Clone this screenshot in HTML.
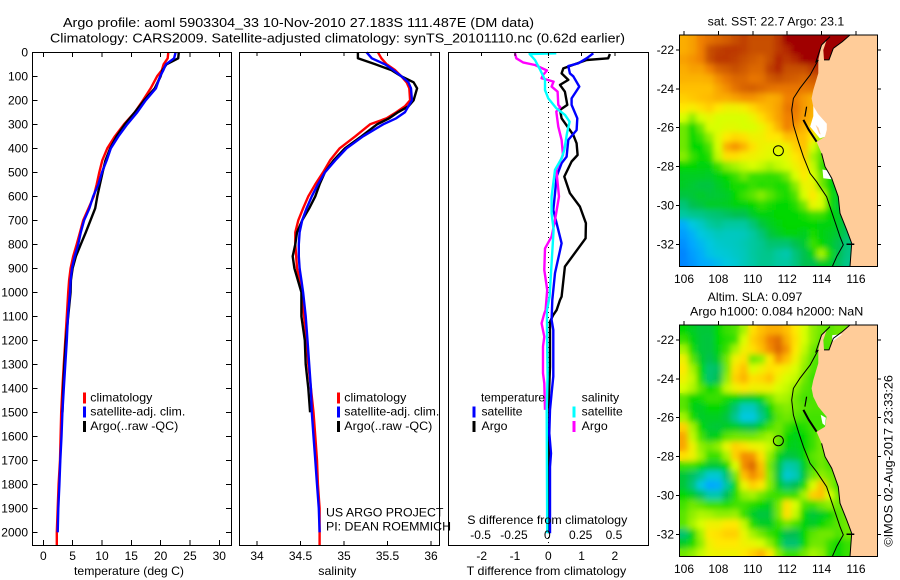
<!DOCTYPE html>
<html>
<head>
<meta charset="utf-8">
<title>Argo profile</title>
<style>
html,body{margin:0;padding:0;background:#fff;width:900px;height:580px;overflow:hidden}
svg{display:block}
text{font-family:"Liberation Sans",sans-serif;font-size:12px;fill:#000}
.t{font-size:13px}
</style>
</head>
<body>
<svg id="fig" xmlns="http://www.w3.org/2000/svg" width="900" height="580" viewBox="0 0 900 580">
<defs>
<filter id="soft" x="0" y="0" width="100%" height="100%"><feGaussianBlur stdDeviation="3" result="b"/><feMerge><feMergeNode in="SourceGraphic"/><feMergeNode in="b"/></feMerge></filter>
<clipPath id="clip-sst"><rect x="679.3" y="35" width="198" height="231.7"/></clipPath>
<clipPath id="clip-sla"><rect x="679.3" y="325" width="198" height="231.7"/></clipPath>
</defs>
<rect width="900" height="580" fill="#fff"/>

<text class="t" x="63" y="27" textLength="471" lengthAdjust="spacingAndGlyphs">Argo profile: aoml 5903304_33 10-Nov-2010 27.183S 111.487E (DM data)</text>
<text class="t" x="50" y="42.5" textLength="575" lengthAdjust="spacingAndGlyphs">Climatology: CARS2009. Satellite-adjusted climatology: synTS_20101110.nc (0.62d earlier)</text>

<g id="maps"></g>
<g id="panels"></g>

<text x="74" y="575" textLength="110" lengthAdjust="spacingAndGlyphs">temperature (deg C)</text>
<text x="318.3" y="575" textLength="38" lengthAdjust="spacingAndGlyphs">salinity</text>
<text x="466.7" y="575" textLength="159.5" lengthAdjust="spacingAndGlyphs">T difference from climatology</text>
<text x="467.3" y="524" textLength="160" lengthAdjust="spacingAndGlyphs">S difference from climatology</text>

<g>
<rect x="83" y="392.5" width="3" height="11" fill="#f00"/>
<rect x="83" y="406.5" width="3" height="11" fill="#00f"/>
<rect x="83" y="421" width="3" height="11" fill="#000"/>
<text x="90.3" y="401.7" textLength="62" lengthAdjust="spacingAndGlyphs">climatology</text>
<text x="90.3" y="415.7" textLength="95" lengthAdjust="spacingAndGlyphs">satellite-adj. clim.</text>
<text x="90.3" y="430" textLength="88" lengthAdjust="spacingAndGlyphs">Argo(..raw -QC)</text>
</g>
<g>
<rect x="337" y="392.5" width="3" height="11" fill="#f00"/>
<rect x="337" y="406.5" width="3" height="11" fill="#00f"/>
<rect x="337" y="421" width="3" height="11" fill="#000"/>
<text x="344.3" y="401.7" textLength="62" lengthAdjust="spacingAndGlyphs">climatology</text>
<text x="344.3" y="415.7" textLength="95" lengthAdjust="spacingAndGlyphs">satellite-adj. clim.</text>
<text x="344.3" y="430" textLength="88" lengthAdjust="spacingAndGlyphs">Argo(..raw -QC)</text>
</g>
<g>
<text x="481" y="401.7" textLength="64" lengthAdjust="spacingAndGlyphs">temperature</text>
<rect x="472.5" y="406.5" width="3" height="11" fill="#00f"/>
<rect x="472.5" y="421" width="3" height="11" fill="#000"/>
<text x="481.5" y="415.7" textLength="41" lengthAdjust="spacingAndGlyphs">satellite</text>
<text x="481.5" y="430" textLength="26" lengthAdjust="spacingAndGlyphs">Argo</text>
<text x="581.7" y="401.7" textLength="37.5" lengthAdjust="spacingAndGlyphs">salinity</text>
<rect x="572.5" y="406.5" width="3" height="11" fill="#0ff"/>
<rect x="572.5" y="421" width="3" height="11" fill="#f0f"/>
<text x="581.7" y="415.7" textLength="41" lengthAdjust="spacingAndGlyphs">satellite</text>
<text x="581.7" y="430" textLength="26" lengthAdjust="spacingAndGlyphs">Argo</text>
</g>

<text x="326" y="516.7" textLength="117.5" lengthAdjust="spacingAndGlyphs">US ARGO PROJECT</text>
<text x="326" y="530.7" textLength="125" lengthAdjust="spacingAndGlyphs">PI: DEAN ROEMMICH</text>

<text x="707.7" y="25.7" textLength="136.6" lengthAdjust="spacingAndGlyphs">sat. SST: 22.7 Argo: 23.1</text>
<text x="707.7" y="301" textLength="94.6" lengthAdjust="spacingAndGlyphs">Altim. SLA: 0.097</text>
<text x="690" y="315.7" textLength="173.3" lengthAdjust="spacingAndGlyphs">Argo h1000: 0.084 h2000: NaN</text>
<text transform="translate(892.7,546.7) rotate(-90)" x="0" y="0" textLength="171.7" lengthAdjust="spacingAndGlyphs">©IMOS 02-Aug-2017 23:33:26</text>
</svg>

<script>
// ---------- profile data ----------
const depthT = [0,25,50,75,100,150,200,250,300,350,400,450,500,550,600,650,700,750,800,850,900,950,1000,1100,1200,1300,1400,1500,1600,1700,1800,1900,2000,2055];
const tempClim = [21.3,21.2,20.5,20.2,19.4,18.3,17.0,15.6,13.75,12.2,10.9,10.05,9.55,9.1,8.6,7.7,6.8,6.25,5.7,5.1,4.65,4.4,4.25,4.0,3.75,3.5,3.25,3.05,2.95,2.85,2.6,2.45,2.3,2.3];
const tempSat = [22.55,22.3,20.9,20.45,19.9,19.2,17.45,16,14.3,12.8,11.5,10.8,10,9.4,8.5,7.85,6.95,6.4,5.95,5.35,4.9,4.65,4.55,4.2,4,3.75,3.5,3.25,3.1,2.9,2.75,2.55,2.45];
const tempArgo = [23.1,23,21,20.3,20,19,17.2,15.6,13.9,12.5,11.4,10.6,10.1,9.65,9.2,8.85,8.05,7.25,6.4,5.55,5,4.7,4.65,4.25,3.85,3.6,3.4,3.25];

const depthS = [0,25,50,75,100,125,150,200,225,250,275,300,350,400,450,500,550,600,650,700,750,800,850,900,950,1000,1100,1200,1300,1400,1500,1600,1700,1800,1900,2000,2055];
const salClim = [35.39,35.43,35.49,35.59,35.66,35.72,35.75,35.76,35.7,35.6,35.49,35.3,35.13,34.95,34.84,34.76,34.67,34.59,34.53,34.475,34.44,34.44,34.45,34.46,34.49,34.52,34.54,34.57,34.59,34.62,34.65,34.67,34.69,34.7,34.72,34.72,34.72];
const salSat = [35.26,35.32,35.47,35.57,35.66,35.74,35.77,35.78,35.74,35.7,35.6,35.45,35.22,35.03,34.9,34.78,34.7,34.63,34.57,34.52,34.49,34.48,34.48,34.49,34.51,34.53,34.56,34.58,34.6,34.62,34.63,34.65,34.67,34.69,34.71,34.72];
const salArgo = [35.16,35.16,35.36,35.55,35.66,35.8,35.84,35.8,35.74,35.62,35.52,35.38,35.2,35.01,34.88,34.78,34.72,34.67,34.6,34.52,34.46,34.44,34.41,34.43,34.47,34.51,34.51,34.55,34.56,34.59,34.61];

const depthDiffTSat = [4,25,46,57,88,100,143,192,219,275,324,365,435,462,518,587,657,712,796,920,1032,1115,1157,1351,1421,1490,1587,1671,1727,2004];
const diffTSat = [1.35,1.15,0.9,0.6,0.65,0.75,0.93,0.7,0.7,0.87,0.85,0.6,0.55,0.4,0.25,0.2,0.15,0.25,0.4,0.2,0.12,0.1,0.15,0.15,0.1,0.05,0.03,0.08,0.05,0.05];
const depthDiffTArgo = [7,25,32,67,88,115,136,164,219,240,275,344,379,428,455,518,587,643,712,775,893,1018,1032,1074,1094,1122,1310,1421,1490,2004];
const diffTArgo = [1.85,1.8,1.15,0.45,0.4,0.6,0.35,0.5,0.57,0.35,0.4,0.75,0.85,0.88,0.7,0.48,0.65,0.95,1.13,1.12,0.5,0.4,0.35,0.25,0.15,0.05,0.05,0.02,0.03,0.02];
const depthDiffSSat = [4,7,32,74,115,157,192,233,261,289,337,407,442,490,601,671,740,879,1018,1074,1171,1351,1490,2004];
const diffSSat = [0.06,-0.14,-0.1,-0.06,-0.025,-0.025,0,0.06,0.125,0.16,0.14,0.12,0.1,0.05,0.025,0.025,0.04,0.025,0.01,-0.01,-0.01,-0.005,-0.012,-0.008];
const depthDiffSArgo = [4,25,42,53,76,94,108,122,143,164,219,229,247,310,365,428,490,601,699,768,817,907,990,1074,1088,1129,1185,1226,1337,1379,1490];
const diffSArgo = [-0.25,-0.24,-0.19,-0.1,-0.01,-0.04,-0.05,0.04,0.025,0.07,0.075,0.09,0.06,0.075,0.1,0.11,0.06,0.08,0.05,0.025,-0.025,-0.03,-0.008,-0.02,-0.03,-0.05,-0.03,-0.04,-0.04,-0.03,-0.025];

// ---------- tick labels ----------
const depthTicks = [0,100,200,300,400,500,600,700,800,900,1000,1100,1200,1300,1400,1500,1600,1700,1800,1900,2000];
const tempTicks = [0,5,10,15,20,25,30];
const salTicks = [34,34.5,35,35.5,36];
const diffTTicks = [-2,-1,0,1,2];
const diffSTicks = [-0.5,-0.25,0,0.25,0.5];
const lonTicks = [106,108,110,112,114,116];
const latTicks = [-22,-24,-26,-28,-30,-32];

// ---------- map data: colour-scale level per half-degree cell, north to south ----------
const sstRows = [
[8.3,8.5,9,9.3,9.5,9.7,10,10.2,10,10,10,10.3,11,11,11,11,11,11,11,11,11],
[8.3,8.5,9,10,10.2,10.3,10.3,10.2,10,10,10,10.3,10.5,11,11,11,11,11,11,11,11],
[8.5,8.7,9,10,10.3,10.3,10.2,10,9.8,9.6,10,10.5,10.3,10.5,11,11,11,11,11,11,11],
[8.3,8.5,8.5,9,9.6,9.8,10,9.8,9.5,9.5,10.2,10.5,10,10,10,10.3,10.5,10.5],
[8.2,8.2,8.2,8.3,8.8,9.2,9.5,9.5,9.2,9.3,9.8,10,9.8,9.7,9.5,9.8,9.8],
[8,8,8,8,8.4,8.8,9.3,9.6,9.7,9.5,9.3,9.2,9.2,9.2,9.2,9.3,9.3],
[7.8,7.9,8,8.1,8.3,8.3,8.5,8.7,8.7,8.5,8.3,8.4,9,9,8.6,8.3,8.3],
[7.5,7.4,7.6,7.8,7.5,7.3,7.3,7.4,7.7,8,8.2,8.5,9.2,9.2,8.6,8.3,8,8],
[7,6.3,7,7.2,7,7,7,7,7.2,7.6,8,8.5,9,9,8.5,8.2,8,8],
[6,5,6,7,7,7.1,7.1,7,7,7.2,7.6,8.2,9,8.6,8.2,7.8,7,7],
[6,5,5.5,6.3,7.1,7.5,7.7,7.6,7.3,7.3,7.5,7.5,8,8,8,7.5,6.5,6],
[6,5,5,5.7,7,8.3,8.7,8.2,7.6,7.3,7.2,7.2,7.3,7.8,8,7,6,5.5],
[6.2,5.5,5,5.3,6.8,7.6,7.6,7.4,7.3,7.2,7.1,7,7.2,7.5,7.8,6.5,5.8,5.2],
[5,5,4.8,4.8,5.5,6.2,6.5,6.8,7,6.8,6.5,6.8,7,7.3,7.6,6.8,5.5,5,4.8],
[4.6,4.6,4.6,4.5,4.8,5,5.5,6,5.5,5.5,5.4,5.5,6,7,7.5,7,6,5,4.6],
[4.5,4.4,4.2,4.2,4.5,4.8,5.2,5.2,5.5,5.3,5.4,5.2,5.3,6.2,7.2,7.3,6,5,4.5],
[4.2,4.3,4.5,4.3,4.4,4.5,5,5.5,5.8,6.2,5.8,5.4,5.2,5.7,7,7.5,7,5.2,4.5,4.2],
[3.5,4,4.2,4.5,4.5,4.6,4.8,4.8,5,5.4,5.2,5,5,5.3,6,7.2,7,5.2,4.4,4.2],
[3,3.2,3.3,3.5,3.6,3.8,4,4,4.5,4.8,4.8,5,5,5,5.2,5.5,5.5,5,4.6,4],
[1.2,2,2.4,3,3.2,3,3,3,3.5,4.2,4.6,4.8,5,5,5,5,4.8,4.8,4.5,4,3.5],
[0.8,1.3,2,2.3,2.6,2.5,2.5,2.6,3,3.5,4.2,4.5,4.8,4.8,4.6,5.2,4.8,4.6,4.3,3.8,3.3],
[0.5,1,1.5,2,2.3,2.4,2.5,2.7,3,3.2,3.6,3.6,3.6,4,4.4,5.5,5,4.5,4,3.5,3.2],
[0.3,0.8,1.2,1.8,2.1,2.2,2.4,2.6,3,3.2,3.3,3,2.8,3.5,4,4.8,6.5,5.2,4,3.4,3.2],
[0.3,0.6,1,1.2,1.6,2,2.2,2.6,2.9,3.2,3.2,3,3,3.4,4,4,4.5,4.5,3.8,3.3,3.2]
];
const slaRows = [
[5,4.6,4.3,4.3,5,5.5,5.7,6.5,7.6,8,8.3,8.3,8,7.5,7,6.3,6,5.8,6,6,6],
[5.5,4.8,4.3,4.2,5,5.3,5.5,7,7.8,8.2,9,9.4,8.3,7.6,7,6.3,5.8,5.8,6,6,6],
[6.5,5.2,4.3,4.2,4.8,5.5,6.5,7.3,7.6,8,8.8,9.5,8.7,7.5,6.8,6,5.7,5.7,6,6,6],
[7.3,5.8,4.5,4,4.5,6,7.3,7.6,6,6.3,7.5,8.7,8,7.3,6.5,5.8,5.5,5.5],
[7.5,6.5,5,3.6,3.8,6,7.6,8,7,7.3,7.6,7.5,7.3,7,6.3,5.7,5.7],
[7.3,6.8,5.2,3.6,4,6.3,7.8,8.2,7.6,7.7,8,7.3,7,6.8,6,5.5,5.5],
[7,6.6,5.8,5,5.5,6.8,7.3,7.5,7.3,7.3,7.3,7,6.8,6.3,5.8,5.6,5.6],
[5.8,5,5.2,5.5,5.5,5.2,5,4.6,4.6,5,6,6.6,6.5,6,5.6,5.7,5.7,5.7],
[5.8,4.8,4.6,5,5,4.6,3.6,2.5,2.5,3.6,5,6,6.2,6,5.8,5.7,5.7,5.7],
[6.5,5.2,4.5,4.6,4.6,4.2,3.2,2,2,3.2,4.5,5.8,6,5.8,5.6,5.6,5.6,5.6],
[7.8,6.5,5,4.4,4.3,4.6,4.6,4.2,4,4.7,5.6,6,5.5,5,5.3,5.6,5.6,5.6],
[8.4,6.8,5.6,4.6,4.8,5.8,6,6,6,6.2,6.5,6,5,4.7,5,5.5,6,6],
[8.4,7.3,6.3,6,6.3,7.2,7.8,7.6,7.3,7.2,6.8,5.8,4.8,4.6,5,5.5,6,6],
[7.6,7.3,6.5,5.5,5.5,6.5,7.8,8.8,8.7,7.6,6.3,4.8,4.2,4.3,5,5.8,6,5.5,5.5],
[5.5,5.5,5,4.4,4.4,5,7,8.8,9.5,8,6,4.3,2.8,3,4.6,5.6,6,5.7,5.7],
[4.3,3.8,3.2,2.2,2.2,3.6,6,8,8.8,8.2,6.2,4.2,2.2,2.6,4.3,6,6.3,6,6],
[4.3,3.5,2,1,1.2,3,5,7.2,7.8,7.5,6.2,4.6,3.6,4,5.2,7,8,6.3,5.5,5.5],
[5,4.6,3.8,2.8,2.8,4,5.3,6.3,6.5,6,5.6,5.5,5.5,5.5,6.5,7.8,8,7,6,6],
[5.6,6,5.8,5.5,5.5,5.3,5.6,5.6,5.3,5,4.6,6,7.6,7,5.7,5.5,6,6.3,6,6],
[5.8,6.3,6.6,6.5,6.3,6.3,6.4,5.5,4.6,4.2,4.3,6,7.6,6.8,5,4.3,4.6,5,5.8,6],
[5.8,6.5,7,7.3,7.3,7.5,7.5,6.8,5.3,4.6,4.6,5.5,6,5.6,4.8,4.5,5,5.5,5.8,6,6],
[3.6,4.8,6.5,7.5,7.6,7.8,7.8,7.2,6.5,6,5.5,5,4,4,5,5.8,6,6,5.7,6,6],
[4.5,5.2,6.3,7.3,7.5,7.5,7.5,7.3,7.2,7,6.3,5.3,3.6,3.6,5,6,6,5.5,5,5.5,5.5],
[6,6.3,6.8,7.2,7.3,7.3,7.3,7.5,7.8,8.2,7.5,6.2,5.5,5.5,6,6.5,6.3,5.3,5,5.5,5.5]
];

// ---------- geography (lon, lat) ----------
const coastLon = [115.65,115.21,114.68,114.43,114.14,114.10,114.29,114.0,113.81,113.81,113.52,113.42,113.52,113.8,114.29,114.2,113.71,114.0,114.2,114.59,114.97,115.07,115.46,115.75,115.65];
const coastLat = [-21.23,-21.57,-21.91,-22.51,-22.51,-22.0,-21.49,-21.74,-22.51,-23.2,-24.06,-24.49,-24.92,-25.43,-25.95,-26.46,-26.72,-27.32,-28.0,-28.6,-29.55,-30.4,-31.26,-31.95,-33.15];
const shelfLon = [114.49,114.0,113.67,113.81,113.33,112.74,112.36,112.26,112.36,112.65,112.94,113.33,113.71,114.29,114.68,115.07,115.26,114.88,114.62];
const shelfLat = [-21.31,-21.74,-22.6,-22.51,-23.29,-23.97,-24.49,-25.09,-25.86,-26.72,-27.49,-28.35,-28.78,-29.55,-30.58,-31.61,-32.03,-32.63,-33.15];
const bayWhiteLon = [113.52,113.8,114.3,114.3,114.2,113.9,113.33,113.52];
const bayWhiteLat = [-24.88,-25.3,-25.8,-26.1,-26.46,-26.55,-25.95,-25.4];
const islandLon = [113.65,113.82,113.95,113.85];
const islandLat = [-25.85,-26.0,-26.35,-26.3];
const patchLon = [114.05,114.35,114.58,114.1];
const patchLat = [-28.15,-28.2,-28.65,-28.6];
const gulfWhiteLon = [114.62,115.2,114.75,114.6];
const gulfWhiteLat = [-21.75,-21.7,-22.0,-22.1];
const slaSliverLon = [113.95,114.25,114.2,114.05];
const slaSliverLat = [-25.85,-26.0,-26.4,-26.3];
const barrierALon = [112.94,113.25,113.71];
const barrierALat = [-25.6,-26.1,-26.72];
const barrierBLon = [113.13,113.03];
const barrierBLat = [-24.92,-25.43];
const profileLon = 111.487;
const profileLat = -27.183;

// ---------- scales ----------
const NS = 'http://www.w3.org/2000/svg';
const yD = d => 52.3 + 0.24 * d;
const xT = v => 43.3 + 5.867 * v;
const xS = v => 257 + 87 * (v - 34);
const xDT = v => 548.3 + 33.3 * v;
const xDS = v => 548.3 + 133.3 * v;
const panelsG = document.getElementById('panels');
const mapsG = document.getElementById('maps');
const LINE_W = 2.4;

function mk(tag, parent, attrs) {
  const el = document.createElementNS(NS, tag);
  for (const k in attrs) el.setAttribute(k, attrs[k]);
  parent.appendChild(el);
  return el;
}
function series(parent, name, xs, ds, xf, color, width) {
  const pts = xs.map((v, i) => xf(v).toFixed(1) + ',' + yD(ds[i]).toFixed(1)).join(' ');
  const el = mk('polyline', parent, {points: pts, fill: 'none', stroke: color, 'stroke-width': width, 'stroke-linejoin': 'round'});
  
  
}
function tick(parent, name, x1, y1, x2, y2) {
  const el = mk('line', parent, {x1, y1, x2, y2, stroke: '#000', 'stroke-width': 1, 'shape-rendering': 'crispEdges'});
  
  
}
function label(parent, name, str, x, y, anchor) {
  const el = mk('text', parent, {x, y, 'text-anchor': anchor});
  el.textContent = str;
  
  
}
function frame(parent, name, x, y, w, h) {
  const el = mk('rect', parent, {x, y, width: w, height: h, fill: 'none', stroke: '#000', 'stroke-width': 1, 'shape-rendering': 'crispEdges'});
  
  
}

const topY = 52, botY = 545;

// ---------- temperature panel ----------
series(panelsG, 'temperature-climatology-line', tempClim, depthT, xT, '#f00', LINE_W);
series(panelsG, 'temperature-argo-line', tempArgo, depthT, xT, '#000', LINE_W);
series(panelsG, 'temperature-satellite-line', tempSat, depthT, xT, '#00f', LINE_W);
frame(panelsG, 'temperature-panel-frame', 32.5, topY + 0.5, 199, botY - topY);
depthTicks.forEach(d => {
  tick(panelsG, 'depth-tick-left', 32.5, yD(d), 37.5, yD(d));
  tick(panelsG, 'depth-tick-right', 226, yD(d), 231, yD(d));
  label(panelsG, 'depth-tick-label', String(d), 28, yD(d) + 4, 'end');
});
tempTicks.forEach(v => {
  tick(panelsG, 'temperature-tick-top', xT(v), topY, xT(v), topY + 5);
  tick(panelsG, 'temperature-tick-bottom', xT(v), botY, xT(v), botY - 5);
  label(panelsG, 'temperature-tick-label', String(v), xT(v), 560, 'middle');
});

// ---------- salinity panel ----------
series(panelsG, 'salinity-climatology-line', salClim, depthS, xS, '#f00', LINE_W);
series(panelsG, 'salinity-argo-line', salArgo, depthS, xS, '#000', LINE_W);
series(panelsG, 'salinity-satellite-line', salSat, depthS, xS, '#00f', LINE_W);
frame(panelsG, 'salinity-panel-frame', 239.5, topY + 0.5, 200, botY - topY);
salTicks.forEach(v => {
  tick(panelsG, 'salinity-tick-top', xS(v), topY, xS(v), topY + 4);
  tick(panelsG, 'salinity-tick-bottom', xS(v), botY, xS(v), botY - 4);
  label(panelsG, 'salinity-tick-label', String(v), xS(v), 560, 'middle');
});

// ---------- difference panel ----------
const zero = mk('line', panelsG, {x1: xDT(0), y1: topY, x2: xDT(0), y2: botY, stroke: '#000', 'stroke-width': 1, 'stroke-dasharray': '1 4', 'shape-rendering': 'crispEdges'});


series(panelsG, 'diff-t-argo-line', diffTArgo, depthDiffTArgo, xDT, '#000', LINE_W);
series(panelsG, 'diff-t-satellite-line', diffTSat, depthDiffTSat, xDT, '#00f', LINE_W);
series(panelsG, 'diff-s-argo-line', diffSArgo, depthDiffSArgo, xDS, '#f0f', LINE_W);
series(panelsG, 'diff-s-satellite-line', diffSSat, depthDiffSSat, xDS, '#0ff', LINE_W);
frame(panelsG, 'difference-panel-frame', 448.5, topY + 0.5, 200, botY - topY);
diffTTicks.forEach(v => {
  tick(panelsG, 'diff-t-tick-top', xDT(v), topY, xDT(v), topY + 4);
  label(panelsG, 'diff-t-tick-label', String(v), xDT(v), 560, 'middle');
});
diffSTicks.forEach(v => {
  label(panelsG, 'diff-s-tick-label', String(v), xDS(v) - 1, 539, 'middle');
});

// ---------- maps ----------
function levelColor(v) {
  const stops = [[0,0,120,255],[1,0,168,255],[2,0,200,224],[3,0,200,160],[4,0,192,80],[5,0,216,0],[6,112,232,0],[7,216,255,0],[7.5,255,232,0],[8,255,192,0],[9,240,128,0],[10,200,80,0],[11,160,0,0]];
  let i = 0;
  while (i < stops.length - 2 && v > stops[i + 1][0]) i++;
  const a = stops[i], b = stops[i + 1];
  const t = Math.max(0, Math.min(1, (v - a[0]) / (b[0] - a[0])));
  return 'rgb(' + [1, 2, 3].map(k => Math.round(a[k] + t * (b[k] - a[k]))).join(',') + ')';
}
function polyPts(lons, lats, xf, yf) {
  return lons.map((v, i) => xf(v).toFixed(1) + ',' + yf(lats[i]).toFixed(1)).join(' ');
}
function drawMap(prefix, rows, yOffset, clipId) {
  const xLon = v => 684 + 17.2 * (v - 106);
  const yLat = v => yOffset + 50 + 19.43 * (-22 - v);
  const g = mk('g', mapsG, {'clip-path': 'url(#' + clipId + ')'});
  
  
  const cells = mk('g', g, {filter: 'url(#soft)'});
  
  
  rows.forEach((row, i) => {
    row.forEach((v, j) => {
      const lonW = 105.73 + 0.5 * j;
      const latN = -21.23 - 0.5 * i;
      const c = mk('rect', cells, {x: xLon(lonW).toFixed(2), y: yLat(latN).toFixed(2), width: (xLon(lonW + 0.5) - xLon(lonW) + 0.5).toFixed(2), height: (yLat(latN - 0.5) - yLat(latN) + 0.5).toFixed(2), fill: levelColor(v)});
      
      
    });
  });
  // land
  const lonsLand = coastLon.concat([117.3, 117.3]);
  const latsLand = coastLat.concat([-33.3, -21.2]);
  const land = mk('polygon', g, {points: polyPts(lonsLand, latsLand, xLon, yLat), fill: '#fc9', stroke: 'none'});
  
  
  const extra = (name, lons, lats, fill) => {
    const p = mk('polygon', g, {points: polyPts(lons, lats, xLon, yLat), fill});
    
    
  };
  if (prefix === 'sst') {
    extra('bay-no-data', bayWhiteLon, bayWhiteLat, '#fff');
    extra('bay-island', islandLon, islandLat, '#fc9');
    extra('coast-no-data', patchLon, patchLat, '#fff');
  } else {
    extra('bay-no-data', slaSliverLon, slaSliverLat, '#fff');
    extra('gulf-no-data', gulfWhiteLon, gulfWhiteLat, '#fff');
  }
  const line = (name, lons, lats, w) => {
    const p = mk('polyline', g, {points: polyPts(lons, lats, xLon, yLat), fill: 'none', stroke: '#000', 'stroke-width': w});
    
    
  };
  line('shelf-contour', shelfLon, shelfLat, 1);
  line('south-coast-outline', coastLon.slice(17), coastLat.slice(17), 1);
  line('gulf-coast-outline', coastLon.slice(0, 5), coastLat.slice(0, 5), 1);
  line('barrier-islands', barrierALon, barrierALat, 2);
  line('north-islands', barrierBLon, barrierBLat, 1.2);
  line('rottnest-mark', [115.45, 115.9], [-32, -32], 1.5);
  const circle = mk('circle', mapsG, {cx: xLon(profileLon), cy: yLat(profileLat), r: 5, fill: 'none', stroke: '#000', 'stroke-width': 1});
  
  
  frame(mapsG, prefix + '-map-frame', 679.5, yOffset + 35, 198, 231.7);
  lonTicks.forEach(v => {
    tick(mapsG, prefix + '-lon-tick-top', xLon(v), yOffset + 31, xLon(v), yOffset + 35);
    label(mapsG, prefix + '-lon-tick-label', String(v), xLon(v), yOffset + 283, 'middle');
  });
  latTicks.forEach(v => {
    tick(mapsG, prefix + '-lat-tick-left', 676, yLat(v), 679.5, yLat(v));
    tick(mapsG, prefix + '-lat-tick-right', 877.5, yLat(v), 881, yLat(v));
    label(mapsG, prefix + '-lat-tick-label', String(v), 674, yLat(v) + 4, 'end');
  });
}
drawMap('sst', sstRows, 0, 'clip-sst');
drawMap('sla', slaRows, 290, 'clip-sla');
</script>
</body>
</html>
